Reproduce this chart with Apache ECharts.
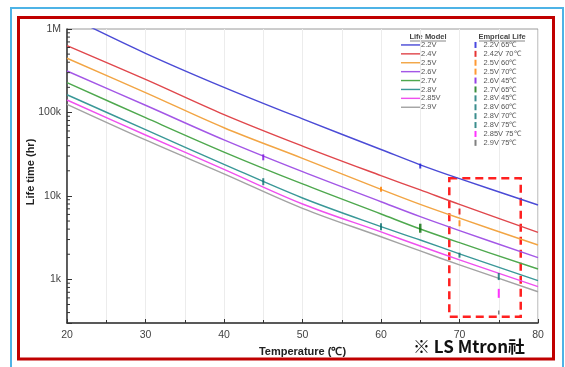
<!DOCTYPE html>
<html>
<head>
<meta charset="utf-8">
<script src="https://cdn.jsdelivr.net/npm/echarts@6/dist/echarts.min.js"></script>
<style>
  html, body { margin: 0; padding: 0; background: #fff; }
  #chart { width: 565px; height: 367px; }
</style>
</head>
<body>
<div id="chart"></div>
<script>
// Temperatures (°C) at which each life-model curve is sampled
const temps = [20, 30, 40, 50, 60, 65, 70, 80];

// Life model curves, life time in hours
const life22  = [1450000, 512000, 200000, 83600, 36000, 23600, 16100, 7780];
const life24  = [631000, 249000, 94400, 39600, 17500, 11800, 7900, 3660];
const life25  = [446000, 173000, 65600, 28200, 12000, 7930, 5410, 2580];
const life26  = [314000, 122000, 46900, 19500, 8510, 5640, 3840, 1820];
const life27  = [228000, 86500, 33500, 13900, 6070, 4010, 2750, 1330];
const life28  = [163000, 62200, 23900, 9440, 4280, 2960, 2020, 964];
const life285 = [141000, 53700, 20800, 8000, 3700, 2510, 1710, 817];
const life29  = [125000, 46800, 18400, 7100, 3240, 2190, 1490, 711];

const modelNames = ['2.2V', '2.4V', '2.5V', '2.6V', '2.7V', '2.8V', '2.85V', '2.9V'];
const modelValues = [life22, life24, life25, life26, life27, life28, life285, life29];

// Empirical test results: [temperature, life time]
const empNames = ['2.2V 65℃', '2.42V 70℃', '2.5V 60℃', '2.5V 70℃', '2.6V 45℃', '2.7V 65℃',
                  '2.8V 45℃', '2.8V 60℃', '2.8V 70℃', '2.8V 75℃', '2.85V 75℃', '2.9V 75℃'];
const empTemps = [65, 70, 60, 70, 45, 65, 45, 60, 70, 75, 75, 75];
const empLife  = [22800, 6500, 12000, 4700, 29000, 4100, 14800, 4280, 1950, 1080, 680, 400];

// Axis ticks
const xTicks = [20, 30, 40, 50, 60, 70, 80];
const yMajorLabels = { 1000: '1k', 10000: '10k', 100000: '100k', 1000000: '1M' };
const yMinorTicks = [400, 500, 600, 700, 800, 900,
                     2000, 3000, 4000, 5000, 6000, 7000, 8000, 9000,
                     20000, 30000, 40000, 50000, 60000, 70000, 80000, 90000,
                     200000, 300000, 400000, 500000, 600000, 700000, 800000, 900000];

// Highlighted region (°C, hours)
const highlightBox = [[68.7, 16300], [77.8, 356]];

const modelColors = ['#4b4bd6', '#e0474c', '#f2a544', '#a357e6', '#4ea84e', '#3a9898', '#ef50ef', '#a3a3a3'];
const empColors = ['#1a1ad8', '#e00000', '#ff8000', '#ff8000', '#7a10e0', '#0a700a',
                   '#0a7070', '#0a7070', '#0a7070', '#0a7070', '#ff00ff', '#606060'];
const empSizes = [[2, 5], [2, 6], [2, 5], [2, 6], [2, 6], [2.5, 9],
                  [2, 7], [2, 7], [2, 5], [2, 7], [2, 9], [1.5, 4]];

const FONT = '"Liberation Sans", Arial, sans-serif';
const LINE_ICON = 'path://M0,0 L40,0 L40,3 L0,3 Z';

const series = [];
modelNames.forEach((name, i) => {
  const s = {
    name: name,
    type: 'line',
    symbol: 'none',
    smooth: 0.35,
    clip: true,
    data: temps.map((t, k) => [t, modelValues[i][k]]),
    lineStyle: { color: modelColors[i], width: 1.4 },
    itemStyle: { color: modelColors[i] },
    z: 3
  };
  if (i === 0) {
    s.markArea = {
      silent: true,
      itemStyle: { color: 'rgba(0,0,0,0)', borderColor: '#ff2020', borderWidth: 2.5, borderType: [8, 5] },
      data: [[{ coord: highlightBox[0] }, { coord: highlightBox[1] }]]
    };
  }
  series.push(s);
});
empNames.forEach((name, i) => {
  series.push({
    name: name,
    type: 'scatter',
    symbol: 'rect',
    symbolSize: empSizes[i],
    data: [[empTemps[i], empLife[i]]],
    itemStyle: { color: empColors[i] },
    z: 4
  });
});
// Minor log ticks on the y axis
series.push({
  type: 'custom',
  silent: true,
  z: 5,
  data: yMinorTicks.map(v => [xTicks[0], v]),
  encode: { x: 0, y: 1 },
  renderItem: function (params, api) {
    const p = api.coord([api.value(0), api.value(1)]);
    return {
      type: 'line',
      shape: { x1: p[0], y1: p[1], x2: p[0] + 3, y2: p[1] },
      style: { stroke: '#333', lineWidth: 1 }
    };
  }
});

const chart = echarts.init(document.getElementById('chart'), null, { renderer: 'canvas' });
chart.setOption({
  backgroundColor: '#fff',
  animation: false,
  textStyle: { fontFamily: FONT },
  grid: { left: 67, right: 27, top: 29, bottom: 44, show: true, borderColor: '#9a9a9a', borderWidth: 1 },
  xAxis: {
    type: 'value',
    min: xTicks[0],
    max: xTicks[xTicks.length - 1],
    interval: 10,
    name: 'Temperature (℃)',
    nameLocation: 'middle',
    nameGap: 23,
    nameTextStyle: { fontFamily: FONT, fontWeight: 'bold', fontSize: 11, color: '#222' },
    axisLine: { lineStyle: { color: '#333', width: 1.5 } },
    axisTick: { inside: true, length: 4, lineStyle: { color: '#333' } },
    minorTick: { show: true, splitNumber: 2, length: 3, lineStyle: { color: '#333' } },
    splitLine: { show: true, lineStyle: { color: '#ececec', width: 1 } },
    minorSplitLine: { show: true, lineStyle: { color: '#ececec', width: 1 } },
    axisLabel: { fontFamily: FONT, fontSize: 10.5, color: '#444', margin: 7 }
  },
  yAxis: {
    type: 'log',
    logBase: 10,
    min: 300,
    max: 1000000,
    axisLine: { show: true, lineStyle: { color: '#333', width: 1.5 } },
    axisTick: { inside: true, length: 5, lineStyle: { color: '#333' } },
    splitLine: { show: false },
    axisLabel: {
      fontFamily: FONT, fontSize: 10.5, color: '#444', margin: 6,
      formatter: v => yMajorLabels[Math.round(v)] || ''
    }
  },
  legend: [
    {
      data: modelNames.map(n => ({ name: n, icon: LINE_ICON })),
      orient: 'vertical',
      left: 401,
      top: 40.5,
      padding: 0,
      itemWidth: 19,
      itemHeight: 7,
      itemGap: 0,
      selectedMode: false,
      textStyle: { fontFamily: FONT, fontSize: 7.5, color: '#555', lineHeight: 8.9, padding: [0, 0, 0, -4] }
    },
    {
      data: empNames.map(n => ({ name: n, icon: 'rect' })),
      orient: 'vertical',
      left: 474.5,
      top: 40.5,
      padding: 0,
      itemWidth: 2,
      itemHeight: 6,
      itemGap: 0,
      selectedMode: false,
      textStyle: { fontFamily: FONT, fontSize: 7.5, color: '#555', lineHeight: 8.9, padding: [0, 0, 0, 2] }
    }
  ],
  graphic: [
    { type: 'rect', silent: true, shape: { x: 11, y: 8, width: 552, height: 380 },
      style: { fill: 'none', stroke: '#4db3e6', lineWidth: 2 } },
    { type: 'rect', silent: true, shape: { x: 18.5, y: 17.5, width: 535, height: 341.5 },
      style: { fill: 'none', stroke: '#c00000', lineWidth: 3 } },
    { type: 'text', silent: true, x: 31, y: 172, rotation: Math.PI / 2,
      style: { text: 'Life time (hr)', font: 'bold 11px ' + FONT, fill: '#222', align: 'center', verticalAlign: 'middle' } },
    { type: 'text', silent: true, x: 428, y: 37, style: { text: 'Life Model', font: 'bold 7.5px ' + FONT, fill: '#444', align: 'center', verticalAlign: 'middle' } },
    { type: 'line', silent: true, shape: { x1: 410, y1: 41, x2: 446, y2: 41 }, style: { stroke: '#555', lineWidth: 0.7 } },
    { type: 'text', silent: true, x: 502, y: 37, style: { text: 'Emprical Life', font: 'bold 7.5px ' + FONT, fill: '#444', align: 'center', verticalAlign: 'middle' } },
    { type: 'line', silent: true, shape: { x1: 479, y1: 41, x2: 525, y2: 41 }, style: { stroke: '#555', lineWidth: 0.7 } },
    { type: 'text', silent: true, x: 413, y: 347, style: { text: '※ LS Mtron社', font: 'bold 17px "Noto Sans CJK KR", ' + FONT, fill: '#111', verticalAlign: 'middle' } }
  ],
  series: series
});
</script>
</body>
</html>
